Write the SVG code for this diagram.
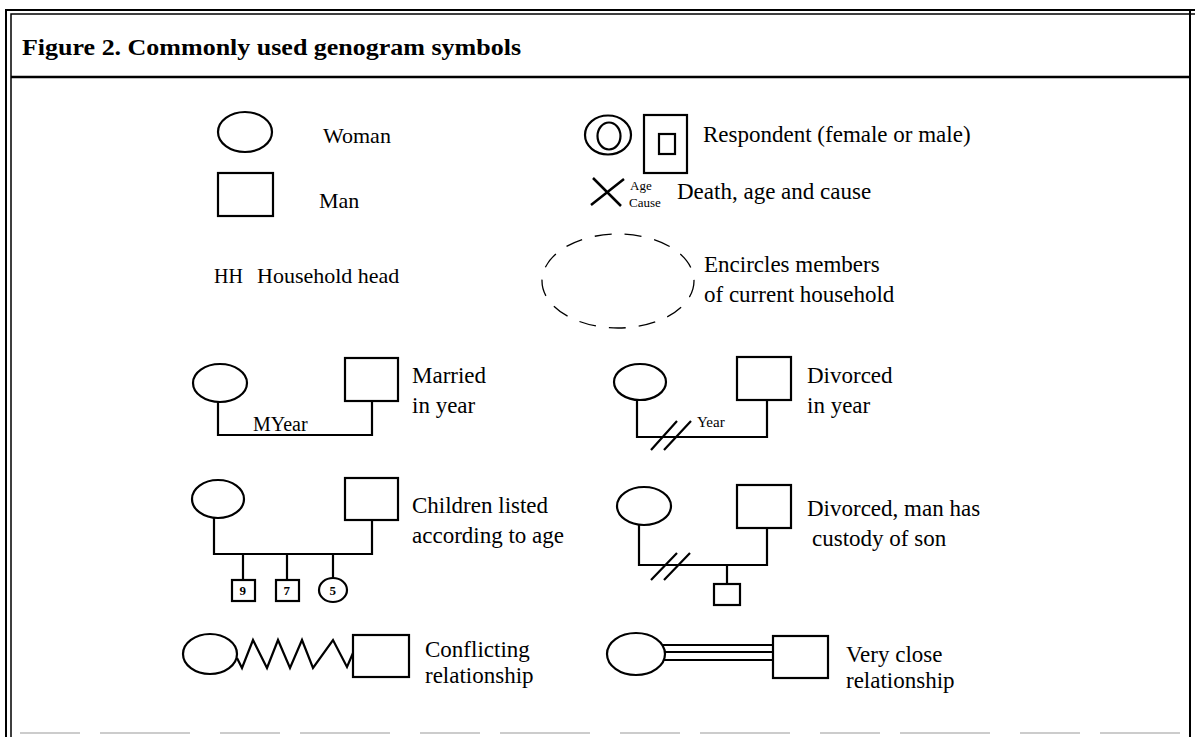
<svg xmlns="http://www.w3.org/2000/svg" width="1195" height="737" viewBox="0 0 1195 737">
<style>
.s{fill:none;stroke:#000;stroke-width:2.2}
.t{font-family:"Liberation Serif","Times New Roman",serif;font-size:23px;fill:#000}
.sm{font-family:"Liberation Serif","Times New Roman",serif;font-size:13px;fill:#000}
.ttl{font-family:"Liberation Serif","Times New Roman",serif;font-size:24px;font-weight:bold;fill:#000}
</style>
<rect width="1195" height="737" fill="#fff"/>
<g id="frame" fill="none" stroke="#000">
<path d="M6 737 V10 H1195" stroke-width="2"/>
<path d="M11 737 V14 H1195" stroke-width="1.5"/>
<path d="M1190 10 V737" stroke-width="2"/>
<path d="M11 77 H1190" stroke-width="2.5"/>
<path d="M20 733 H1180" stroke="#ccc" stroke-width="2" stroke-dasharray="60 20 90 30"/>
</g>
<text class="ttl" x="22" y="55" textLength="499" lengthAdjust="spacingAndGlyphs">Figure 2.  Commonly used genogram symbols</text>
<g id="woman"><ellipse class="s" cx="245" cy="132" rx="27" ry="20"/><text class="t" x="323" y="143" style="font-size:22px">Woman</text></g>
<g id="man"><rect class="s" x="218" y="173" width="55" height="43"/><text class="t" x="319" y="208" style="font-size:22px">Man</text></g>
<g id="hh"><text class="t" x="214" y="283" style="font-size:20px">HH</text><text class="t" x="257" y="283" style="font-size:22px">Household head</text></g>
<g id="respondent">
<ellipse class="s" cx="608" cy="135" rx="23" ry="19.5"/><ellipse class="s" cx="609" cy="136" rx="11.5" ry="13.5"/>
<rect class="s" x="644" y="115" width="43" height="58"/><rect class="s" x="659" y="134" width="16" height="20"/>
<text class="t" x="703" y="142">Respondent (female or male)</text></g>
<g id="death">
<path class="s" d="M593 178 L621 206 M591 205 L624 179" style="stroke-width:2.5"/>
<text class="sm" x="630" y="190">Age</text><text class="sm" x="629" y="207">Cause</text>
<text class="t" x="677" y="199">Death, age and cause</text></g>
<g id="household">
<ellipse cx="618" cy="281" rx="76" ry="47" fill="none" stroke="#000" stroke-width="1.3" stroke-dasharray="17 13"/>
<text class="t" x="704" y="272">Encircles members</text><text class="t" x="704" y="302">of current household</text></g>
<g id="married">
<ellipse class="s" cx="220" cy="383" rx="27" ry="19"/><rect class="s" x="345" y="358" width="53" height="43"/>
<text class="t" x="253" y="431" style="font-size:20px">MYear</text>
<text class="t" x="412" y="383">Married</text><text class="t" x="412" y="413">in year</text></g>
<g id="divorced">
<ellipse class="s" cx="640" cy="382" rx="26" ry="18"/><rect class="s" x="737" y="357" width="54" height="43"/>
<text class="sm" x="697" y="427" style="font-size:15px">Year</text>
<text class="t" x="807" y="383">Divorced</text><text class="t" x="807" y="413">in year</text></g>
<g id="children">
<ellipse class="s" cx="218" cy="499" rx="26" ry="19"/><rect class="s" x="345" y="478" width="53" height="42"/>
<rect class="s" x="232" y="580" width="23" height="21"/><text class="sm" x="239.5" y="595" font-weight="bold">9</text>
<rect class="s" x="276" y="580" width="23" height="21"/><text class="sm" x="283.5" y="595" font-weight="bold">7</text>
<ellipse class="s" cx="333" cy="590" rx="14" ry="12"/><text class="sm" x="329.5" y="595" font-weight="bold">5</text>
<text class="t" x="412" y="513">Children listed</text><text class="t" x="412" y="543">according to age</text></g>
<g id="custody">
<ellipse class="s" cx="644" cy="506" rx="27" ry="19"/><rect class="s" x="737" y="485" width="54" height="43"/>
<rect class="s" x="714" y="584" width="26" height="21"/>
<text class="t" x="807" y="516">Divorced, man has</text><text class="t" x="812" y="546">custody of son</text></g>
<g id="conflict">
<ellipse class="s" cx="210" cy="654" rx="27" ry="20"/><rect class="s" x="353" y="635" width="56" height="42"/>
<text class="t" x="425" y="657">Conflicting</text><text class="t" x="425" y="683">relationship</text></g>
<g id="close">
<ellipse class="s" cx="636" cy="654" rx="29" ry="21"/><rect class="s" x="773" y="636" width="55" height="42"/>
<text class="t" x="846" y="662">Very close</text><text class="t" x="846" y="688">relationship</text></g>
<g id="connectors" class="s">
<path d="M218 402 V435 H372 V401"/>
<path d="M637 400 V437 H767 V400"/>
<path d="M651 450 L677 421 M664 450 L691 421"/>
<path d="M214 518 V554 H372 V520"/>
<path d="M243 554 V580 M287 554 V580 M333 554 V578"/>
<path d="M639 525 V565 H767 V528"/>
<path d="M651 580 L677 553 M664 580 L690 553"/>
<path d="M727 565 V584"/>
<path d="M237 658 L242 668 L253 640 L267 668 L278 640 L290 668 L302 640 L313 668 L333 640 L347 667 L353 653"/>
<path d="M663 645 H773 M665 652 H773 M663 660 H773"/>
</g>
</svg>
